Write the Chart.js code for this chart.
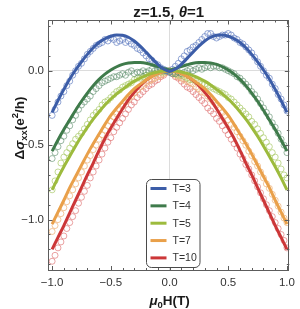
<!DOCTYPE html>
<html>
<head>
<meta charset="utf-8">
<script src="https://cdn.jsdelivr.net/npm/chart.js@4.4.1/dist/chart.umd.min.js"></script>
<style>
html, body { margin: 0; padding: 0; background: #fff; }
#wrap { width: 300px; height: 309px; }
</style>
</head>
<body>
<div id="wrap"><canvas id="chart"></canvas></div>
<script>
"use strict";

const FONT = "'Liberation Sans', Arial, sans-serif";

const seriesLabels = ['T=3', 'T=4', 'T=5', 'T=7', 'T=10'];
const lineColors = ['#3c5da8', '#3f7b4b', '#9dbb3d', '#e9a04a', '#cc3738'];
const dotColors = ['rgba(90,120,190,0.65)', 'rgba(90,140,105,0.6)', 'rgba(170,203,105,0.7)',
                   'rgba(238,175,115,0.7)', 'rgba(220,100,100,0.6)'];

// field values of the measured points
const xData = [-1, -0.975, -0.95, -0.925, -0.9, -0.875, -0.85, -0.825, -0.8, -0.775,
  -0.75, -0.725, -0.7, -0.675, -0.65, -0.625, -0.6, -0.575, -0.55, -0.525,
  -0.5, -0.475, -0.45, -0.425, -0.4, -0.375, -0.35, -0.325, -0.3, -0.275,
  -0.25, -0.225, -0.2, -0.175, -0.15, -0.125, -0.1, -0.075, -0.05, -0.025, 0,
  0.025, 0.05, 0.075, 0.1, 0.125, 0.15, 0.175, 0.2, 0.225, 0.25,
  0.275, 0.3, 0.325, 0.35, 0.375, 0.4, 0.425, 0.45, 0.475, 0.5,
  0.525, 0.55, 0.575, 0.6, 0.625, 0.65, 0.675, 0.7, 0.725, 0.75,
  0.775, 0.8, 0.825, 0.85, 0.875, 0.9, 0.925, 0.95, 0.975, 1];

const dataT3 = [-0.30, -0.26, -0.21, -0.17, -0.14, -0.10, -0.07, -0.03, 0.00, 0.03,
  0.05, 0.08, 0.11, 0.13, 0.15, 0.17, 0.18, 0.19, 0.21, 0.20,
  0.22, 0.21, 0.19, 0.20, 0.21, 0.19, 0.20, 0.18, 0.17, 0.15,
  0.14, 0.12, 0.10, 0.08, 0.07, 0.05, 0.04, 0.02, 0.01, 0.00, -0.01,
  0.01, 0.03, 0.05, 0.08, 0.10, 0.13, 0.14, 0.16, 0.17, 0.19,
  0.21, 0.23, 0.25, 0.25, 0.23, 0.22, 0.23, 0.24, 0.24, 0.25,
  0.24, 0.22, 0.21, 0.19, 0.18, 0.16, 0.14, 0.12, 0.09, 0.06,
  0.03, 0.00, -0.03, -0.05, -0.09, -0.12, -0.16, -0.19, -0.23, -0.27];

const dataT4 = [-0.59, -0.55, -0.51, -0.47, -0.44, -0.40, -0.37, -0.33, -0.30, -0.26,
  -0.23, -0.21, -0.19, -0.17, -0.14, -0.12, -0.10, -0.08, -0.07, -0.06,
  -0.05, -0.04, -0.04, -0.03, -0.02, -0.03, -0.01, 0.00, -0.02, -0.01,
  -0.01, 0.00, -0.01, 0.00, 0.01, 0.00, 0.01, 0.01, 0.00, 0.00, -0.01,
  -0.02, -0.02, -0.01, -0.02, -0.01, 0.00, 0.01, 0.00, 0.01, 0.02,
  0.01, 0.02, 0.03, 0.02, 0.03, 0.03, 0.02, 0.02, 0.01, 0.00,
  -0.01, -0.02, -0.04, -0.05, -0.07, -0.09, -0.11, -0.14, -0.16, -0.19,
  -0.22, -0.25, -0.28, -0.31, -0.35, -0.38, -0.42, -0.46, -0.50, -0.55];

const dataT5 = [-0.80, -0.74, -0.68, -0.62, -0.58, -0.55, -0.52, -0.49, -0.46, -0.44,
  -0.42, -0.39, -0.36, -0.33, -0.30, -0.28, -0.26, -0.23, -0.21, -0.20,
  -0.18, -0.16, -0.14, -0.13, -0.11, -0.10, -0.09, -0.08, -0.06, -0.05,
  -0.05, -0.04, -0.03, -0.03, -0.02, -0.02, -0.01, -0.01, -0.01, 0.00, 0.00,
  -0.01, -0.02, -0.03, -0.03, -0.04, -0.05, -0.06, -0.06, -0.07, -0.08,
  -0.09, -0.09, -0.10, -0.11, -0.12, -0.13, -0.14, -0.15, -0.16, -0.18,
  -0.19, -0.21, -0.23, -0.25, -0.27, -0.29, -0.31, -0.34, -0.36, -0.39,
  -0.42, -0.45, -0.48, -0.51, -0.55, -0.58, -0.62, -0.66, -0.70, -0.72];

const dataT7 = [-1.08, -1.04, -1.00, -0.96, -0.92, -0.88, -0.84, -0.80, -0.76, -0.72,
  -0.68, -0.64, -0.60, -0.57, -0.53, -0.50, -0.46, -0.43, -0.40, -0.37,
  -0.34, -0.31, -0.29, -0.26, -0.24, -0.21, -0.19, -0.17, -0.15, -0.13,
  -0.11, -0.10, -0.08, -0.07, -0.06, -0.05, -0.04, -0.03, -0.02, -0.01, 0.00,
  -0.01, -0.03, -0.04, -0.05, -0.06, -0.07, -0.08, -0.09, -0.11, -0.12,
  -0.14, -0.15, -0.17, -0.19, -0.21, -0.23, -0.25, -0.28, -0.30, -0.33,
  -0.36, -0.38, -0.41, -0.44, -0.47, -0.50, -0.54, -0.57, -0.61, -0.64,
  -0.68, -0.72, -0.76, -0.79, -0.83, -0.87, -0.91, -0.95, -0.99, -1.02];

const dataT10 = [-1.28, -1.24, -1.19, -1.15, -1.11, -1.06, -1.02, -0.98, -0.94, -0.89,
  -0.85, -0.81, -0.77, -0.72, -0.68, -0.64, -0.60, -0.56, -0.52, -0.48,
  -0.45, -0.41, -0.38, -0.35, -0.32, -0.29, -0.26, -0.23, -0.21, -0.18,
  -0.16, -0.14, -0.12, -0.10, -0.09, -0.07, -0.06, -0.04, -0.03, -0.01, 0.00,
  -0.02, -0.04, -0.05, -0.07, -0.09, -0.11, -0.12, -0.14, -0.16, -0.18,
  -0.20, -0.22, -0.25, -0.27, -0.29, -0.32, -0.34, -0.37, -0.40, -0.43,
  -0.46, -0.49, -0.52, -0.56, -0.59, -0.63, -0.66, -0.70, -0.74, -0.78,
  -0.82, -0.86, -0.90, -0.94, -0.98, -1.02, -1.06, -1.10, -1.14, -1.19];

// fitted curves
const xFit = [-1, -0.95, -0.9, -0.85, -0.8, -0.75, -0.7, -0.65, -0.6, -0.55,
  -0.5, -0.45, -0.4, -0.35, -0.3, -0.25, -0.2, -0.15, -0.1, -0.05, 0,
  0.05, 0.1, 0.15, 0.2, 0.25, 0.3, 0.35, 0.4, 0.45, 0.5,
  0.55, 0.6, 0.65, 0.7, 0.75, 0.8, 0.85, 0.9, 0.95, 1];

const fitT3 = [-0.28, -0.20, -0.125, -0.055, 0.005, 0.06, 0.11, 0.155, 0.19, 0.215,
  0.232, 0.24, 0.238, 0.225, 0.20, 0.165, 0.125, 0.083, 0.043, 0.012, -0.005,
  0.012, 0.043, 0.083, 0.125, 0.165, 0.20, 0.225, 0.238, 0.24, 0.232,
  0.215, 0.19, 0.155, 0.11, 0.06, 0.005, -0.055, -0.125, -0.20, -0.28];

const fitT4 = [-0.54, -0.465, -0.395, -0.33, -0.265, -0.205, -0.15, -0.10, -0.058, -0.023,
  0.005, 0.027, 0.043, 0.052, 0.056, 0.055, 0.05, 0.04, 0.028, 0.015, 0.005,
  0.015, 0.028, 0.04, 0.05, 0.055, 0.056, 0.052, 0.043, 0.027, 0.005,
  -0.023, -0.058, -0.10, -0.15, -0.205, -0.265, -0.33, -0.395, -0.465, -0.54];

const fitT5 = [-0.80, -0.72, -0.645, -0.575, -0.505, -0.44, -0.38, -0.325, -0.275, -0.23,
  -0.19, -0.155, -0.125, -0.095, -0.07, -0.05, -0.033, -0.018, -0.008, -0.002, 0,
  -0.002, -0.008, -0.018, -0.033, -0.05, -0.07, -0.095, -0.125, -0.155, -0.19,
  -0.23, -0.275, -0.325, -0.38, -0.44, -0.505, -0.575, -0.645, -0.72, -0.80];

const fitT7 = [-1.03, -0.95, -0.87, -0.785, -0.71, -0.635, -0.56, -0.49, -0.425, -0.36,
  -0.30, -0.25, -0.205, -0.16, -0.12, -0.09, -0.062, -0.038, -0.018, -0.005, 0,
  -0.005, -0.018, -0.038, -0.062, -0.09, -0.12, -0.16, -0.205, -0.25, -0.30,
  -0.36, -0.425, -0.49, -0.56, -0.635, -0.71, -0.785, -0.87, -0.95, -1.03];

const fitT10 = [-1.20, -1.12, -1.04, -0.955, -0.87, -0.785, -0.70, -0.62, -0.535, -0.455,
  -0.385, -0.32, -0.255, -0.195, -0.145, -0.10, -0.065, -0.037, -0.016, -0.004, 0,
  -0.004, -0.016, -0.037, -0.065, -0.10, -0.145, -0.195, -0.255, -0.32, -0.385,
  -0.455, -0.535, -0.62, -0.70, -0.785, -0.87, -0.955, -1.04, -1.12, -1.20];

const xMajor = [-1, -0.5, 0, 0.5, 1];
const yMajor = [-1, -0.5, 0];

const dataSets = [dataT3, dataT4, dataT5, dataT7, dataT10];
const fitSets = [fitT3, fitT4, fitT5, fitT7, fitT10];

const toPoints = (xs, ys) => xs.map((x, i) => ({ x: x, y: ys[i] }));

const datasets = [];
fitSets.forEach((f, i) => {
    datasets.push({
        label: seriesLabels[i],
        data: toPoints(xFit, f),
        showLine: true,
        borderColor: lineColors[i],
        backgroundColor: lineColors[i],
        borderWidth: 3,
        pointRadius: 0,
        cubicInterpolationMode: 'monotone',
        order: 0
    });
});
dataSets.forEach((d, i) => {
    datasets.push({
        label: seriesLabels[i] + ' data',
        data: toPoints(xData, d),
        showLine: false,
        borderColor: dotColors[i],
        backgroundColor: 'rgba(0,0,0,0)',
        borderWidth: 1,
        pointRadius: 3,
        order: 1
    });
});

const fmt = v => (v < 0 ? '\u2212' : '') + Math.abs(v).toFixed(1);
const isMajor = v => Math.abs(v * 2 - Math.round(v * 2)) < 1e-6;

function fontOf(p) {
    return (p.italic ? 'italic ' : '') + 'bold ' + p.size + 'px ' + FONT;
}

function drawRich(ctx, parts, x, y) {
    let w = 0;
    parts.forEach(p => { ctx.font = fontOf(p); p.w = ctx.measureText(p.t).width; w += p.w; });
    let cx = x - w / 2;
    parts.forEach(p => {
        ctx.font = fontOf(p);
        ctx.fillText(p.t, cx, y + (p.dy || 0));
        cx += p.w;
    });
}

// frame with inward ticks on all four sides
const framePlugin = {
    id: 'frame',
    afterDatasetsDraw(chart) {
        const { ctx, chartArea: a, scales } = chart;
        ctx.save();
        ctx.strokeStyle = '#5c5c5c';
        ctx.lineWidth = 1;
        ctx.beginPath();
        for (let i = -10; i <= 10; i++) {
            const v = i / 10;
            const p = Math.round(scales.x.getPixelForValue(v)) + 0.5;
            const len = isMajor(v) ? 4.5 : 2.5;
            ctx.moveTo(p, a.bottom); ctx.lineTo(p, a.bottom - len);
            ctx.moveTo(p, a.top); ctx.lineTo(p, a.top + len);
        }
        for (let i = -13; i <= 3; i++) {
            const v = i / 10;
            const p = Math.round(scales.y.getPixelForValue(v)) + 0.5;
            const len = isMajor(v) ? 4.5 : 2.5;
            ctx.moveTo(a.left, p); ctx.lineTo(a.left + len, p);
            ctx.moveTo(a.right, p); ctx.lineTo(a.right - len, p);
        }
        ctx.stroke();
        ctx.strokeRect(Math.round(a.left) + 0.5, Math.round(a.top) + 0.5,
            Math.round(a.right - a.left) - 1, Math.round(a.bottom - a.top) - 1);
        ctx.restore();
    }
};

// title, axis labels and the legend box
const textPlugin = {
    id: 'texts',
    afterDraw(chart) {
        const { ctx, chartArea: a } = chart;
        ctx.save();
        ctx.fillStyle = '#1a1a1a';
        ctx.textBaseline = 'alphabetic';
        ctx.textAlign = 'left';
        drawRich(ctx, [
            { t: 'z=1.5, ', size: 15 },
            { t: '\u03b8', size: 15, italic: true },
            { t: '=1', size: 15 }
        ], (a.left + a.right) / 2, 16.5);

        drawRich(ctx, [
            { t: '\u03bc', size: 13.5, italic: true },
            { t: '0', size: 9.5, dy: 2.5 },
            { t: 'H(T)', size: 13.5 }
        ], (a.left + a.right) / 2 + 1, 305);

        ctx.save();
        ctx.translate(23.5, 128);
        ctx.rotate(-Math.PI / 2);
        drawRich(ctx, [
            { t: '\u0394', size: 13.5 },
            { t: '\u03c3', size: 13.5, italic: true },
            { t: 'xx', size: 9.5, dy: 3 },
            { t: '(e', size: 13.5 },
            { t: '2', size: 9.5, dy: -5.5 },
            { t: '/h)', size: 13.5 }
        ], 0, 0);
        ctx.restore();

        // legend
        const bx = 146.5, by = 179.5, bw = 53.5, bh = 88, r = 5;
        ctx.beginPath();
        ctx.moveTo(bx + r, by);
        ctx.arcTo(bx + bw, by, bx + bw, by + bh, r);
        ctx.arcTo(bx + bw, by + bh, bx, by + bh, r);
        ctx.arcTo(bx, by + bh, bx, by, r);
        ctx.arcTo(bx, by, bx + bw, by, r);
        ctx.closePath();
        ctx.fillStyle = '#fff';
        ctx.fill();
        ctx.strokeStyle = '#4a4a4a';
        ctx.lineWidth = 1;
        ctx.stroke();

        ctx.textBaseline = 'middle';
        ctx.font = '10.5px ' + FONT;
        seriesLabels.forEach((lab, i) => {
            const yy = 188.5 + i * 17.35;
            ctx.strokeStyle = lineColors[i];
            ctx.lineWidth = 3;
            ctx.beginPath();
            ctx.moveTo(150.5, yy);
            ctx.lineTo(166.5, yy);
            ctx.stroke();
            ctx.fillStyle = '#333';
            ctx.fillText(lab, 172.5, yy + 0.5);
        });
        ctx.restore();
    }
};

const zeroGrid = c => (Math.abs(c.tick.value) < 1e-9 ? '#dcdcdc' : 'rgba(0,0,0,0)');

new Chart(document.getElementById('chart'), {
    type: 'scatter',
    data: { datasets: datasets },
    options: {
        responsive: true,
        maintainAspectRatio: false,
        animation: false,
        layout: { padding: { top: 20, right: 5.5, left: 0, bottom: 0 } },
        plugins: {
            legend: { display: false },
            title: { display: false },
            tooltip: { enabled: false }
        },
        scales: {
            x: {
                type: 'linear',
                min: -1.035,
                max: 1.02,
                afterBuildTicks: s => { s.ticks = xMajor.map(v => ({ value: v })); },
                afterFit: s => { s.height = 38.5; },
                border: { display: false },
                grid: { color: zeroGrid, drawTicks: false },
                ticks: {
                    padding: 5,
                    color: '#333',
                    font: { family: FONT, size: 11.5 },
                    maxRotation: 0,
                    callback: v => fmt(v)
                }
            },
            y: {
                type: 'linear',
                min: -1.342,
                max: 0.341,
                afterBuildTicks: s => { s.ticks = yMajor.map(v => ({ value: v })); },
                afterFit: s => { s.width = 48; },
                border: { display: false },
                grid: { color: zeroGrid, drawTicks: false },
                ticks: {
                    padding: 4,
                    color: '#333',
                    font: { family: FONT, size: 11.5 },
                    callback: v => fmt(v)
                }
            }
        }
    },
    plugins: [framePlugin, textPlugin]
});
</script>
</body>
</html>
